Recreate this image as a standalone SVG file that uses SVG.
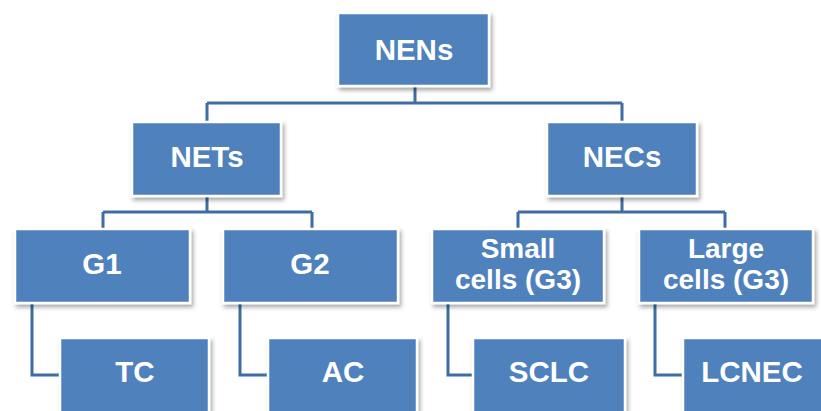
<svg xmlns="http://www.w3.org/2000/svg" width="821" height="411" viewBox="0 0 821 411">
<defs>
<filter id="sh" x="-10%" y="-10%" width="130%" height="140%">
<feDropShadow dx="2" dy="3" stdDeviation="2" flood-color="#000" flood-opacity="0.35"/>
</filter>
<style>
.box{fill:#4F81BD;stroke:#fff;stroke-width:2.5;filter:url(#sh)}
.t{fill:#fff;font-family:"Liberation Sans",Arial,sans-serif;font-weight:bold;font-size:29.5px;text-anchor:middle}
.t2{font-size:28px}
.c{fill:none;stroke:#3E6DA4;stroke-width:3}
</style>
</defs>
<rect width="821" height="411" fill="#fff"/>
<g id="connectors">
<path class="c" d="M415 86V103M207 103H622M207 103V122M622 103V122"/>
<path class="c" d="M207 196V212M103 212H312M103 212V229M312 212V229"/>
<path class="c" d="M622 196V212M518 212H725M518 212V229M725 212V229"/>
<path class="c" d="M32 303V375H60M240 303V375H268M448 303V375H473M655 303V375H683"/>
</g>
<g id="nens"><rect class="box" x="338" y="13" width="151" height="73"/><text class="t" x="414" y="60" font-size="30">NENs</text></g>
<g id="nets"><rect class="box" x="132" y="122" width="149" height="74"/><text class="t" x="207" y="167">NETs</text></g>
<g id="necs"><rect class="box" x="547" y="122" width="150" height="74"/><text class="t" x="622" y="167">NECs</text></g>
<g id="g1"><rect class="box" x="15" y="229" width="175" height="74"/><text class="t" x="102" y="274">G1</text></g>
<g id="g2"><rect class="box" x="223" y="229" width="175" height="74"/><text class="t" x="310" y="274">G2</text></g>
<g id="small"><rect class="box" x="432" y="229" width="172" height="74"/><text class="t t2" x="518" y="258">Small<tspan x="518" y="289">cells (G3)</tspan></text></g>
<g id="large"><rect class="box" x="639" y="229" width="174" height="74"/><text class="t t2" x="726" y="258">Large<tspan x="726" y="289">cells (G3)</tspan></text></g>
<g id="tc"><rect class="box" x="60" y="338" width="149" height="80"/><text class="t" x="135" y="382">TC</text></g>
<g id="ac"><rect class="box" x="268" y="338" width="149" height="80"/><text class="t" x="343" y="382">AC</text></g>
<g id="sclc"><rect class="box" x="473" y="338" width="152" height="80"/><text class="t" x="549" y="382">SCLC</text></g>
<g id="lcnec"><rect class="box" x="683" y="338" width="145" height="80"/><text class="t" x="752" y="382">LCNEC</text></g>
</svg>
